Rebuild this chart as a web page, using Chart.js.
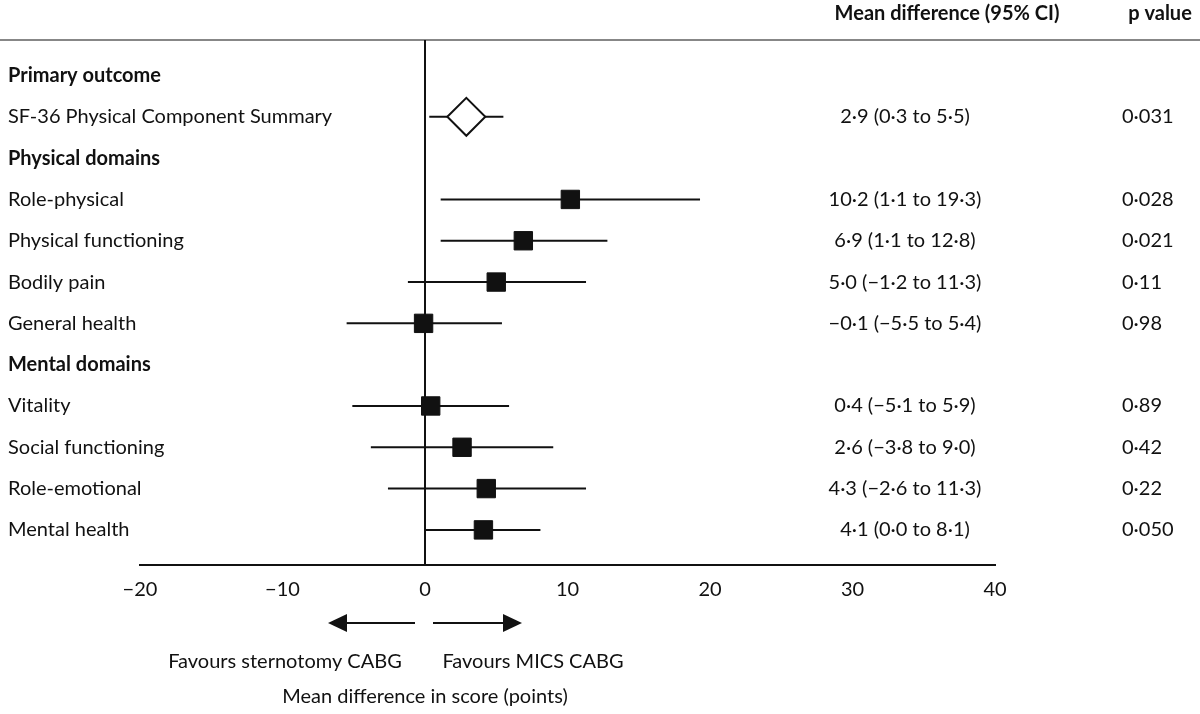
<!DOCTYPE html>
<html><head><meta charset="utf-8">
<script src="https://cdn.jsdelivr.net/npm/chart.js@4/dist/chart.umd.min.js"></script>
<style>html,body{margin:0;background:#fff}#w{width:1200px;height:714px}</style>
</head><body><div id="w"><canvas id="c"></canvas></div>
<script>
const labels = ["Primary outcome","SF-36 Physical Component Summary","Physical domains","Role-physical","Physical functioning","Bodily pain","General health","Mental domains","Vitality","Social functioning","Role-emotional","Mental health"];
const isHeader = [true,false,true,false,false,false,false,true,false,false,false,false];
const means = [null,2.9,null,10.2,6.9,5.0,-0.1,null,0.4,2.6,4.3,4.1];
const lows = [null,0.3,null,1.1,1.1,-1.2,-5.5,null,-5.1,-3.8,-2.6,0.0];
const highs = [null,5.5,null,19.3,12.8,11.3,5.4,null,5.9,9.0,11.3,8.1];
const ciText = ["","2·9 (0·3 to 5·5)","","10·2 (1·1 to 19·3)","6·9 (1·1 to 12·8)","5·0 (−1·2 to 11·3)","−0·1 (−5·5 to 5·4)","","0·4 (−5·1 to 5·9)","2·6 (−3·8 to 9·0)","4·3 (−2·6 to 11·3)","4·1 (0·0 to 8·1)"];
const pText = ["","0·031","","0·028","0·021","0·11","0·98","","0·89","0·42","0·22","0·050"];
const xTicks = [-20,-10,0,10,20,30,40];

const F = "Lato, 'Open Sans', sans-serif";
const squares = [], diamond = [];
means.forEach((m,i)=>{ if(m===null) return; (i===1?diamond:squares).push({x:m,y:i}); });

const overlay = {
  id:'overlay',
  beforeDatasetsDraw(ch){
    const ctx=ch.ctx, x=ch.scales.x, y=ch.scales.y;
    ctx.save();
    ctx.strokeStyle='#111'; ctx.lineWidth=2;
    ctx.beginPath(); ctx.moveTo(x.getPixelForValue(0),ch.chartArea.top); ctx.lineTo(x.getPixelForValue(0),ch.chartArea.bottom); ctx.stroke();
    ctx.lineWidth=1.2;
    ctx.beginPath(); ctx.moveTo(0,ch.chartArea.top); ctx.lineTo(1200,ch.chartArea.top); ctx.stroke();
    ctx.lineWidth=2;
    means.forEach((m,i)=>{ if(m===null) return;
      const py=y.getPixelForValue(i);
      ctx.beginPath(); ctx.moveTo(x.getPixelForValue(lows[i]),py); ctx.lineTo(x.getPixelForValue(highs[i]),py); ctx.stroke();
    });
    ctx.restore();
  },
  afterDraw(ch){
    const ctx=ch.ctx, x=ch.scales.x, y=ch.scales.y;
    ctx.save(); ctx.fillStyle='#111'; ctx.textBaseline='middle';
    labels.forEach((t,i)=>{
      const py=y.getPixelForValue(i);
      ctx.font=(isHeader[i]?'bold ':'')+'20px '+F; ctx.textAlign='left'; ctx.fillText(t,8,py);
      ctx.font='20px '+F;
      ctx.textAlign='center'; ctx.fillText(ciText[i],905,py);
      ctx.textAlign='left'; ctx.fillText(pText[i],1122,py);
    });
    ctx.font='bold 20px '+F; ctx.textAlign='center';
    ctx.fillText('Mean difference (95% CI)',947,14);
    ctx.fillText('p value',1160,14);
    ctx.font='20px '+F;
    const x0=x.getPixelForValue(0);
    const ay=623;
    ctx.strokeStyle='#111'; ctx.lineWidth=2;
    ctx.beginPath(); ctx.moveTo(x0-10,ay); ctx.lineTo(x0-85,ay); ctx.moveTo(x0+8,ay); ctx.lineTo(x0+85,ay); ctx.stroke();
    ctx.beginPath(); ctx.moveTo(x0-97,ay); ctx.lineTo(x0-78,ay-9); ctx.lineTo(x0-78,ay+9); ctx.closePath(); ctx.fill();
    ctx.beginPath(); ctx.moveTo(x0+97,ay); ctx.lineTo(x0+78,ay-9); ctx.lineTo(x0+78,ay+9); ctx.closePath(); ctx.fill();
    ctx.fillText('Favours sternotomy CABG',285,662);
    ctx.fillText('Favours MICS CABG',533,662);
    ctx.fillText('Mean difference in score (points)',425,697);
    ctx.restore();
  }
};

new Chart(document.getElementById('c'),{
  type:'scatter',
  data:{datasets:[
    {data:squares,pointStyle:'rect',pointRadius:13,pointHoverRadius:13,backgroundColor:'#111',borderColor:'#111',borderWidth:1},
    {data:diamond,pointStyle:'rectRot',pointRadius:19,pointHoverRadius:19,backgroundColor:'#fff',borderColor:'#111',borderWidth:2}
  ]},
  options:{
    responsive:true,maintainAspectRatio:false,animation:false,
    layout:{padding:{left:140,right:205,top:40,bottom:108}},
    plugins:{legend:{display:false},tooltip:{enabled:false}},
    scales:{
      x:{type:'linear',min:-20,max:40,
        afterBuildTicks(s){s.ticks=xTicks.map(v=>({value:v}));},
        grid:{display:false,drawTicks:true,tickLength:9,tickColor:'#111',tickWidth:2},
        border:{display:true,color:'#111',width:2},
        ticks:{color:'#111',font:{family:F,size:20},padding:4,callback:v=>v<0?'−'+Math.abs(v):''+v}},
      y:{type:'linear',reverse:true,min:-0.86,max:11.85,display:false}
    }
  },
  plugins:[overlay]
});
</script></body></html>
